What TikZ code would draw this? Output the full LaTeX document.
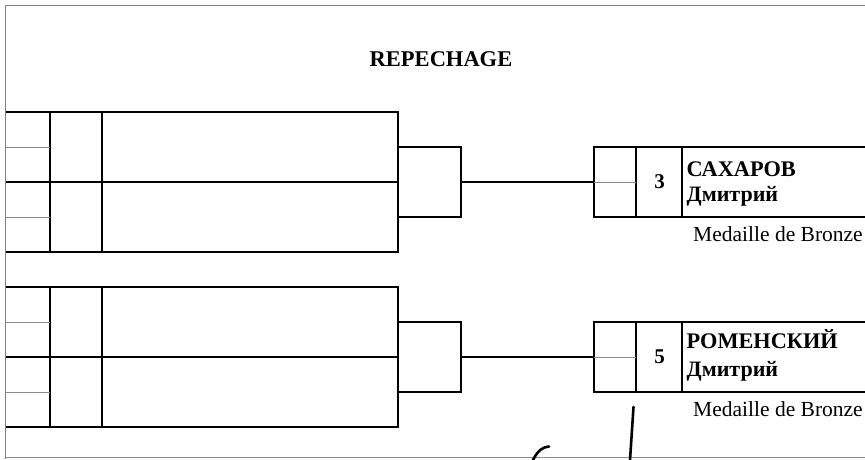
\documentclass[tikz,border=0pt]{standalone}
\usepackage{fontspec}
\setmainfont{Liberation Serif}
\begin{document}
\begin{tikzpicture}[x=1pt,y=-1pt,
  thk/.style={line width=2pt,black},
  thn/.style={line width=1pt,black!45},
  frm/.style={line width=1.2pt,black!50},
  boxnode/.style={draw,thk,inner sep=0pt,outer sep=0pt,anchor=north west},
  lbl/.style={inner sep=0pt,anchor=base west},
  sig/.style={line width=2.6pt,black,line cap=round}]
\useasboundingbox (0,0) rectangle (865,459);
\clip (0,0) rectangle (865,459);
\fill[white] (0,0) rectangle (865,459);
% frame
\draw[frm] (865,5.5) -- (5.5,5.5) -- (5.5,459);
\draw[thn] (5.5,457.5) -- (865,457.5);
% title
\node[inner sep=0pt,anchor=base,font=\fontsize{22.5}{24}\selectfont\bfseries] (title) at (441,66.7) {REPECHAGE};
% two blocks
\foreach \s/\n in {0/1,175/2}{
  \begin{scope}[shift={(0,\s)}]
    \draw[thk] (5.5,112) -- (398,112) -- (398,252) -- (5.5,252);
    \draw[thk] (5.5,182) -- (398,182);
    \draw[thk] (50,112) -- (50,252);
    \draw[thk] (102,112) -- (102,252);
    \draw[thn] (5.5,147.5) -- (50,147.5);
    \draw[thn] (5.5,217.5) -- (50,217.5);
    \node[boxnode,minimum width=63,minimum height=70] (sb\n) at (398,147) {};
    \node[boxnode,minimum width=300,minimum height=70] (rb\n) at (594,147) {};
    \draw[thk] (sb\n.east) -- (rb\n.west);
    \draw[thk] (636,147) -- (636,217);
    \draw[thk] (682,147) -- (682,217);
    \draw[thn] (594,182.5) -- (636,182.5);
  \end{scope}
}
% texts block 1
\node[inner sep=0pt,anchor=base,font=\fontsize{21}{23}\selectfont\bfseries] (n1) at (659.5,188.3) {3};
\node[lbl,font=\fontsize{22.3}{24}\selectfont\bfseries] (f1) at (686.5,176.7) {САХАРОВ};
\node[lbl,font=\fontsize{22}{24}\selectfont\bfseries] (g1) at (686.5,201.7) {Дмитрий};
\node[lbl,font=\fontsize{21.5}{23}\selectfont] (m1) at (693,241.7) {Medaille de Bronze};
% texts block 2
\node[inner sep=0pt,anchor=base,font=\fontsize{21}{23}\selectfont\bfseries] (n2) at (659.5,363.3) {5};
\node[lbl,font=\fontsize{22.3}{24}\selectfont\bfseries] (f2) at (686.5,348.3) {РОМЕНСКИЙ};
\node[lbl,font=\fontsize{22}{24}\selectfont\bfseries] (g2) at (686.5,376) {Дмитрий};
\node[lbl,font=\fontsize{21.5}{23}\selectfont] (m2) at (693,416.7) {Medaille de Bronze};
% signature strokes
\draw[sig] (633.5,407) .. controls (632,430) .. (630,460);
\draw[sig] (533,460) .. controls (538,450) and (543,447) .. (549,446.5);
\end{tikzpicture}
\end{document}
